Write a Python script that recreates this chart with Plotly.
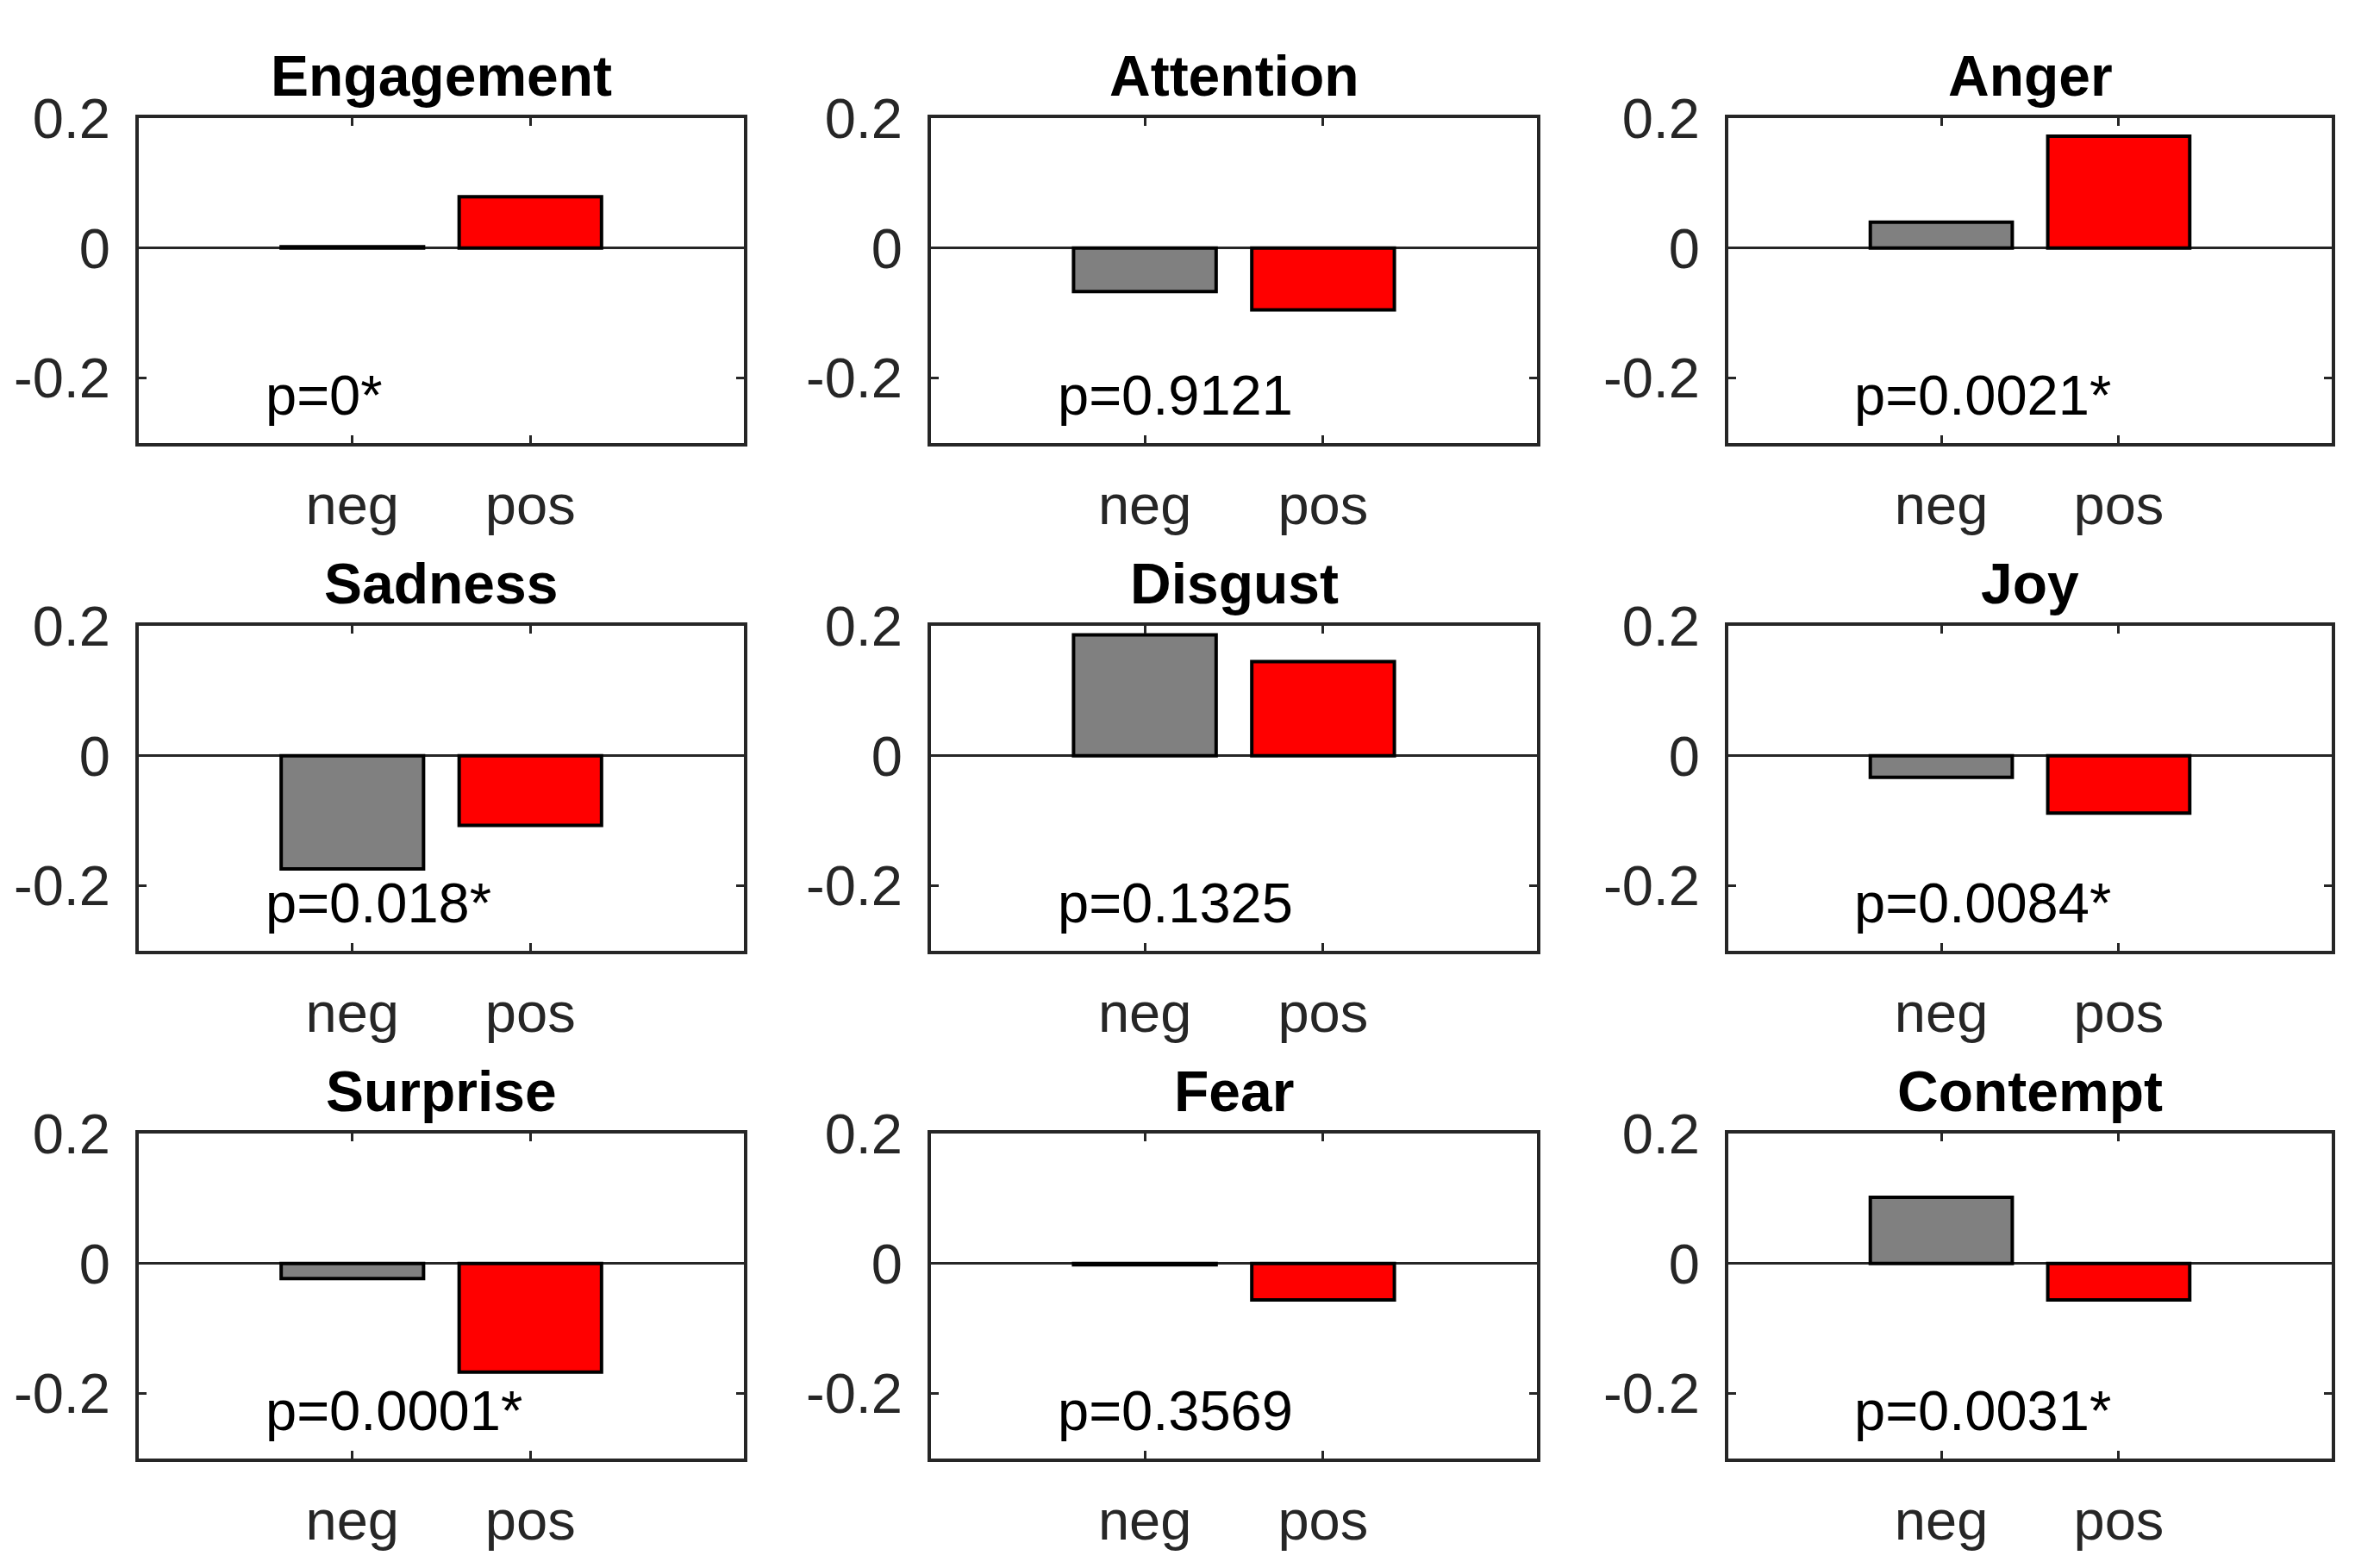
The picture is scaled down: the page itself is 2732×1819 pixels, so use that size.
import plotly.graph_objects as go

emotions = ["Engagement", "Attention", "Anger",
            "Sadness", "Disgust", "Joy",
            "Surprise", "Fear", "Contempt"]
categories = ["neg", "pos"]
neg_values = [0.002, -0.067, 0.040,
              -0.174, 0.186, -0.033,
              -0.023, -0.002, 0.102]
pos_values = [0.079, -0.095, 0.172,
              -0.107, 0.145, -0.088,
              -0.167, -0.056, -0.056]
p_labels = ["p=0*", "p=0.9121", "p=0.0021*",
            "p=0.018*", "p=0.1325", "p=0.0084*",
            "p=0.0001*", "p=0.3569", "p=0.0031*"]
y_ticks = [-0.2, 0, 0.2]
y_tick_text = ["-0.2", "0", "0.2"]

W, H = 2732, 1819
col_px = [(161, 863), (1080, 1783), (2005, 2705)]
row_px = [(137, 514), (726, 1103), (1315, 1692)]

FONT = "Liberation Sans, Arial, Helvetica, sans-serif"
AX_COL = "#262626"

fig = go.Figure()
layout = dict(
    width=W, height=H,
    margin=dict(l=0, r=0, t=0, b=0, autoexpand=False),
    paper_bgcolor="white", plot_bgcolor="white",
    showlegend=False,
    font=dict(family=FONT, size=65, color=AX_COL),
    annotations=[],
)

for i, name in enumerate(emotions):
    r, c = divmod(i, 3)
    n = i + 1
    xa = "x" if n == 1 else f"x{n}"
    ya = "y" if n == 1 else f"y{n}"
    fig.add_trace(go.Bar(
        x=[1, 2], y=[neg_values[i], pos_values[i]], width=0.8,
        marker=dict(color=["#808080", "#FF0000"],
                    line=dict(color="black", width=4)),
        xaxis=xa, yaxis=ya, hoverinfo="skip",
    ))
    x0, x1 = col_px[c]
    y0, y1 = row_px[r]
    xd = [x0 / W, x1 / W]
    yd = [1 - y1 / H, 1 - y0 / H]
    layout["xaxis" if n == 1 else f"xaxis{n}"] = dict(
        domain=xd, anchor=ya, range=[-0.2, 3.2], automargin=False,
        tickvals=[1, 2], ticktext=categories,
        ticks="inside", ticklen=9, tickwidth=3, tickcolor=AX_COL,
        showline=True, linecolor=AX_COL, linewidth=4, mirror="ticks",
        showgrid=False, zeroline=False, fixedrange=True,
        ticklabelstandoff=12,
        tickfont=dict(family=FONT, size=65, color=AX_COL),
    )
    layout["yaxis" if n == 1 else f"yaxis{n}"] = dict(
        domain=yd, anchor=xa, range=[-0.3, 0.2], automargin=False,
        tickvals=y_ticks, ticktext=y_tick_text,
        ticks="inside", ticklen=9, tickwidth=3, tickcolor=AX_COL,
        showline=True, linecolor=AX_COL, linewidth=4, mirror="ticks",
        showgrid=False, zeroline=True, zerolinecolor=AX_COL, zerolinewidth=3,
        fixedrange=True, ticklabelstandoff=16,
        tickfont=dict(family=FONT, size=65, color=AX_COL),
    )
    layout["annotations"].append(dict(
        text=f"<b>{name}</b>", xref="paper", yref="paper",
        x=(xd[0] + xd[1]) / 2, y=yd[1], xanchor="center", yanchor="bottom",
        yshift=10, showarrow=False,
        font=dict(family=FONT, size=66, color="black"),
    ))
    layout["annotations"].append(dict(
        text=p_labels[i], xref=xa, yref=ya, x=0.5, y=-0.227,
        xanchor="left", yanchor="middle", showarrow=False,
        font=dict(family=FONT, size=65, color="black"),
    ))

fig.update_layout(**layout)
fig.write_html(
    "out.html",
    config={"displayModeBar": False},
    post_script="document.body.style.margin='0';document.body.style.overflow='hidden';",
)
